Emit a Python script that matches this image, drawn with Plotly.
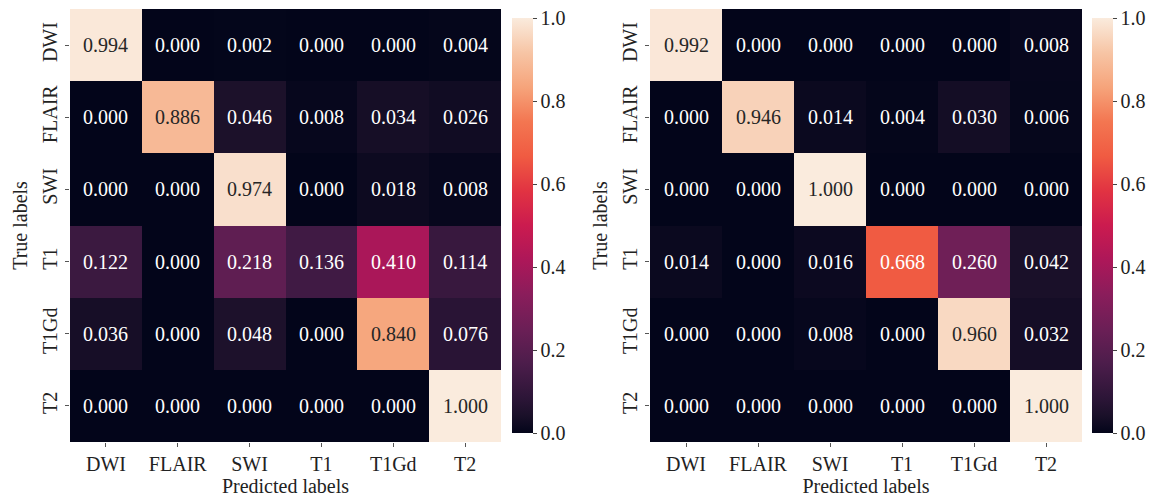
import plotly.graph_objects as go

labels = ["DWI", "FLAIR", "SWI", "T1", "T1Gd", "T2"]

cm_left = [
    [0.994, 0.000, 0.002, 0.000, 0.000, 0.004],
    [0.000, 0.886, 0.046, 0.008, 0.034, 0.026],
    [0.000, 0.000, 0.974, 0.000, 0.018, 0.008],
    [0.122, 0.000, 0.218, 0.136, 0.410, 0.114],
    [0.036, 0.000, 0.048, 0.000, 0.840, 0.076],
    [0.000, 0.000, 0.000, 0.000, 0.000, 1.000],
]

cm_right = [
    [0.992, 0.000, 0.000, 0.000, 0.000, 0.008],
    [0.000, 0.946, 0.014, 0.004, 0.030, 0.006],
    [0.000, 0.000, 1.000, 0.000, 0.000, 0.000],
    [0.014, 0.000, 0.016, 0.668, 0.260, 0.042],
    [0.000, 0.000, 0.008, 0.000, 0.960, 0.032],
    [0.000, 0.000, 0.000, 0.000, 0.000, 1.000],
]

cbar_ticks = [0.0, 0.2, 0.4, 0.6, 0.8, 1.0]

rocket = [
    [0.0, "#03051A"],
    [0.0417, "#1a1029"],
    [0.0833, "#2c1537"],
    [0.1667, "#4c1d4b"],
    [0.25, "#6b1f56"],
    [0.3333, "#8a1d5b"],
    [0.4167, "#ad1759"],
    [0.5, "#cb1b4f"],
    [0.5833, "#e13342"],
    [0.6667, "#f05b42"],
    [0.75, "#f37651"],
    [0.8333, "#f6a47b"],
    [0.9167, "#f7c5a5"],
    [1.0, "#faebdd"],
]

FONT = "Liberation Serif, Times New Roman, serif"
W, H = 1155, 501

def fx(px):
    return px / W

def fy(px):
    return 1 - px / H

fig = go.Figure()

panels = [
    (cm_left, "x", "y", 70, 501, 512),
    (cm_right, "x2", "y2", 650, 1082, 1092),
]

annotations = []
for cm, xa, ya, x0, x1, cbx in panels:
    fig.add_trace(go.Heatmap(
        z=cm, x=labels, y=labels, xaxis=xa, yaxis=ya,
        zmin=0, zmax=1, colorscale=rocket, hoverinfo="skip",
        colorbar=dict(
            x=fx(cbx), xanchor="left", xref="paper",
            y=fy((18 + 433) / 2), yanchor="middle",
            len=(433 - 18) / H, lenmode="fraction",
            thickness=21, thicknessmode="pixels",
            xpad=0, ypad=0,
            outlinewidth=0,
            tickvals=cbar_ticks, ticktext=[f"{t:.1f}" for t in cbar_ticks],
            ticks="outside", ticklen=4, tickcolor="#444",
            tickfont=dict(family=FONT, size=20, color="#222"),
        ),
    ))
    for i, row in enumerate(cm):
        for j, v in enumerate(row):
            annotations.append(dict(
                x=labels[j], y=labels[i], xref=xa, yref=ya,
                text=f"{v:.3f}", showarrow=False,
                font=dict(family=FONT, size=20,
                          color="#262626" if v > 0.75 else "white"),
            ))

axis_common = dict(
    ticks="outside", ticklen=4, tickcolor="#555",
    tickfont=dict(family=FONT, size=20, color="#222"),
    showgrid=False, zeroline=False, showline=False,
    title_font=dict(family=FONT, size=20, color="#222"),
)

fig.update_layout(
    width=W, height=H,
    margin=dict(l=0, r=0, t=0, b=0),
    paper_bgcolor="white", plot_bgcolor="white",
    font=dict(family=FONT, size=20, color="#222"),
    annotations=annotations,
    xaxis=dict(domain=[fx(70), fx(501)], anchor="y",
               title=dict(text="Predicted labels", standoff=2), **axis_common),
    yaxis=dict(domain=[fy(442), fy(9)], anchor="x", autorange="reversed",
               tickangle=-90,
               title=dict(text="True labels", standoff=6), **axis_common),
    xaxis2=dict(domain=[fx(650), fx(1082)], anchor="y2",
                title=dict(text="Predicted labels", standoff=2), **axis_common),
    yaxis2=dict(domain=[fy(442), fy(9)], anchor="x2", autorange="reversed",
                tickangle=-90,
                title=dict(text="True labels", standoff=6), **axis_common),
)

fig.write_html("out.html")
